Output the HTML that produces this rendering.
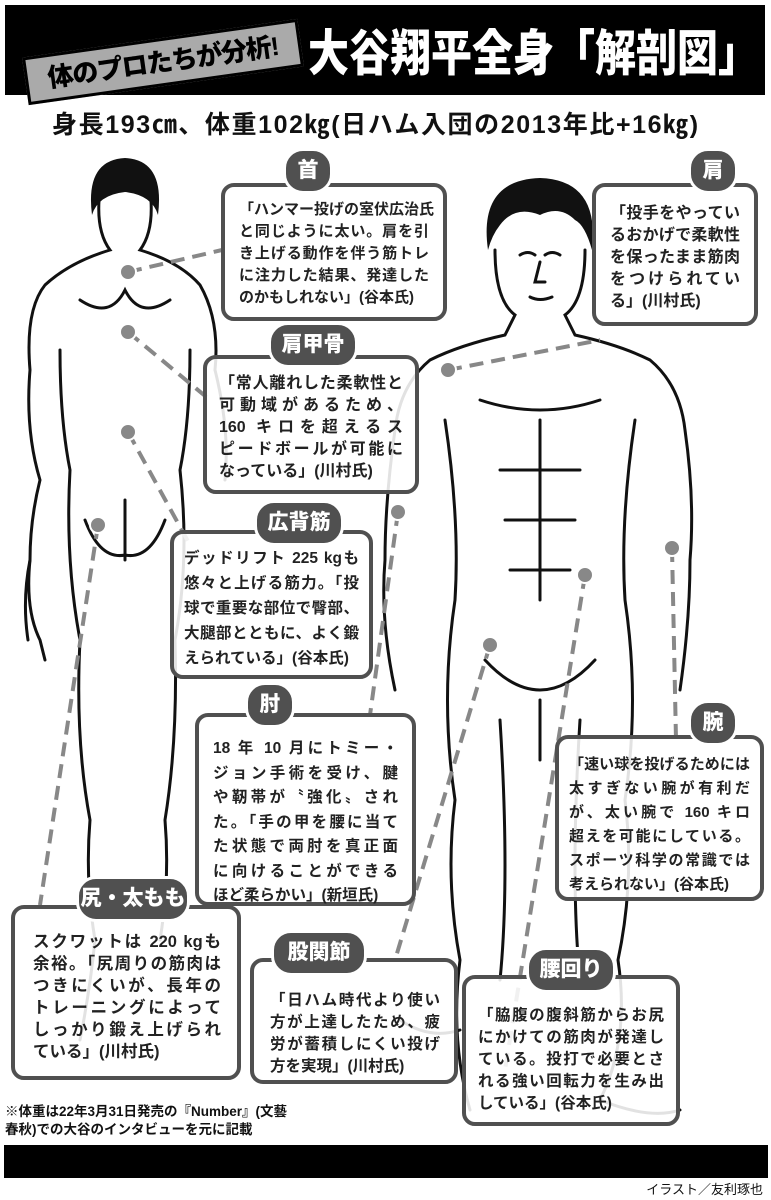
<!DOCTYPE html>
<html><head><meta charset="utf-8">
<style>
*{margin:0;padding:0;box-sizing:border-box}
body{width:771px;height:1200px;background:#fff;position:relative;overflow:hidden;font-family:"Liberation Sans","Noto Sans CJK JP",sans-serif;color:#111}
.bar{position:absolute;background:#000}
.box{position:absolute;background:rgba(255,255,255,0.88);border:4px solid #505050;border-radius:13px;font-weight:bold;color:#222;white-space:nowrap}
.box div{text-align:justify;text-align-last:justify}
.box div.l{text-align-last:left}
.lab{position:absolute;background:#505050;color:#fff;font-weight:900;font-size:21px;height:40px;line-height:40px;border-radius:20px;text-align:center;border:3px solid #fff;box-sizing:content-box}
svg{position:absolute;left:0;top:0}
</style></head><body>
<svg width="771" height="1200" viewBox="0 0 771 1200">
<g fill="none" stroke="#111" stroke-width="3" stroke-linecap="round">
<path d="M100 190 Q95 230 110 250 Q70 262 45 285 Q25 310 30 370 Q25 430 40 480 Q30 520 30 560 Q25 610 40 640 L45 660"/>
<path d="M150 190 Q155 230 140 250 Q180 262 200 285 Q220 320 215 370"/>
<path d="M60 350 Q60 420 70 470 Q65 560 80 640 Q75 740 90 820 Q85 880 95 940 Q90 990 80 1040"/>
<path d="M190 350 Q190 420 180 470 Q190 560 175 640 Q178 740 165 820 Q170 880 160 940"/>
<path d="M125 500 L125 560 M85 520 Q100 560 125 555 Q150 560 165 520"/>
<path d="M80 300 Q110 320 125 290 Q140 320 170 300"/>
<path d="M30 560 Q22 600 28 640 M215 370 Q230 430 225 480"/>
<path d="M495 250 Q495 300 515 315 L505 335 Q460 345 430 360 Q400 385 395 430 Q385 500 385 560 Q380 620 395 690"/>
<path d="M585 250 Q585 300 565 315 L575 335 Q620 345 650 360 Q680 385 685 430 Q695 500 690 560 Q690 620 680 690"/>
<path d="M520 255 Q528 250 535 255 M545 255 Q552 250 560 255 M540 262 L535 282 L545 282 M530 297 Q540 302 552 297"/>
<path d="M445 420 Q460 520 455 600 Q440 700 455 800 Q445 880 460 960 Q450 1040 470 1110 M635 420 Q620 520 625 600 Q640 700 625 800 Q635 880 618 960 Q630 1040 600 1100"/>
<path d="M480 400 Q540 420 600 400 M500 470 L580 470 M505 520 L575 520 M540 420 L540 600 M510 570 L570 570"/>
<path d="M485 660 Q540 720 595 660 M540 700 L540 760 M500 720 Q510 880 500 980 M580 720 Q570 880 580 980"/>
<path d="M400 1020 Q430 1040 460 1030 M600 1100 Q650 1120 680 1110"/>
</g>
<path d="M92 215 Q85 160 125 158 Q165 160 158 215 Q152 195 125 192 Q98 195 92 215Z" fill="#111"/>
<path d="M488 250 Q478 180 540 178 Q600 180 592 250 Q585 225 575 220 Q560 205 540 215 Q515 205 500 225 Q492 235 488 250Z" fill="#111"/>
<g fill="none" stroke="#888" stroke-width="4" stroke-dasharray="14 8">
<path d="M128 272 L222 250"/>
<path d="M128 332 L210 400"/>
<path d="M128 432 L190 545"/>
<path d="M98 525 L40 905"/>
<path d="M448 370 L600 340"/>
<path d="M398 512 L370 715"/>
<path d="M672 548 L676 740"/>
<path d="M490 645 L395 960"/>
<path d="M585 575 L505 1070"/>
</g>
<g fill="#888" stroke="#fff" stroke-width="2">
<circle cx="128" cy="272" r="8"/><circle cx="128" cy="332" r="8"/><circle cx="128" cy="432" r="8"/><circle cx="98" cy="525" r="8"/>
<circle cx="448" cy="370" r="8"/><circle cx="398" cy="512" r="8"/><circle cx="672" cy="548" r="8"/><circle cx="490" cy="645" r="8"/><circle cx="585" cy="575" r="8"/>
</g>
</svg>

<div class="bar" style="left:5px;top:5px;width:760px;height:90px"></div>
<div style="position:absolute;left:24px;top:38px;width:278px;height:48px;background:#aaa;border:3px solid #000;transform:rotate(-8deg);font-weight:900;font-size:26px;line-height:42px;text-align:center;color:#000;white-space:nowrap;letter-spacing:-1px">体のプロたちが分析!</div>
<div style="position:absolute;left:308px;top:20px;width:456px;font-weight:900;font-size:41px;color:#fff;line-height:56px;white-space:nowrap;letter-spacing:0px;transform:scaleY(1.2);transform-origin:top left">大谷翔平全身「解剖図」</div>
<div style="position:absolute;left:52px;top:108px;font-weight:bold;font-size:25px;line-height:34px;color:#111;white-space:nowrap;letter-spacing:1.6px">身長193㎝、体重102㎏(日ハム入団の2013年比+16㎏)</div>

<div class="box" style="left:221px;top:183px;width:226px;height:138px;padding:12px 14px 0 14px;font-size:15px;line-height:22px"><div>「ハンマー投げの室伏広治氏</div><div>と同じように太い。肩を引</div><div>き上げる動作を伴う筋トレ</div><div>に注力した結果、発達した</div><div class="l">のかもしれない」(谷本氏)</div></div>
<div class="lab" style="left:283px;top:148px;width:44px">首</div>

<div class="box" style="left:592px;top:183px;width:166px;height:143px;padding:16px 14px 0 14px;font-size:16px;line-height:22px"><div>「投手をやってい</div><div>るおかげで柔軟性</div><div>を保ったまま筋肉</div><div>をつけられてい</div><div class="l">る」(川村氏)</div></div>
<div class="lab" style="left:688px;top:148px;width:44px">肩</div>

<div class="box" style="left:203px;top:355px;width:216px;height:139px;padding:14px 12px 0 12px;font-size:16px;line-height:22px"><div>「常人離れした柔軟性と</div><div>可動域があるため、</div><div>160 キロを超えるス</div><div>ピードボールが可能に</div><div class="l">なっている」(川村氏)</div></div>
<div class="lab" style="left:268px;top:322px;width:84px">肩甲骨</div>

<div class="box" style="left:170px;top:530px;width:203px;height:149px;padding:12px 10px 0 10px;font-size:15.5px;line-height:25px"><div>デッドリフト 225 kgも</div><div>悠々と上げる筋力。「投</div><div>球で重要な部位で臀部、</div><div>大腿部とともに、よく鍛</div><div class="l">えられている」(谷本氏)</div></div>
<div class="lab" style="left:254px;top:500px;width:84px">広背筋</div>

<div class="box" style="left:195px;top:713px;width:221px;height:193px;padding:20px 14px 0 14px;font-size:15.5px;line-height:24.5px"><div>18 年 10 月にトミー・</div><div>ジョン手術を受け、腱</div><div>や靭帯が〝強化〟され</div><div>た。「手の甲を腰に当て</div><div>た状態で両肘を真正面</div><div>に向けることができる</div><div class="l">ほど柔らかい」(新垣氏)</div></div>
<div class="lab" style="left:245px;top:682px;width:44px">肘</div>

<div class="box" style="left:555px;top:735px;width:209px;height:166px;padding:14px 10px 0 10px;font-size:15px;line-height:24px"><div>「速い球を投げるためには</div><div>太すぎない腕が有利だ</div><div>が、太い腕で 160 キロ</div><div>超えを可能にしている。</div><div>スポーツ科学の常識では</div><div class="l">考えられない」(谷本氏)</div></div>
<div class="lab" style="left:688px;top:700px;width:44px">腕</div>

<div class="box" style="left:11px;top:905px;width:230px;height:175px;padding:22px 16px 0 18px;font-size:16.5px;line-height:22px"><div>スクワットは 220 kgも</div><div>余裕。「尻周りの筋肉は</div><div>つきにくいが、長年の</div><div>トレーニングによって</div><div>しっかり鍛え上げられ</div><div class="l">ている」(川村氏)</div></div>
<div class="lab" style="left:76px;top:876px;width:108px">尻・太もも</div>

<div class="box" style="left:250px;top:958px;width:208px;height:126px;padding:28px 14px 0 16px;font-size:15.5px;line-height:22px"><div>「日ハム時代より使い</div><div>方が上達したため、疲</div><div>労が蓄積しにくい投げ</div><div class="l">方を実現」(川村氏)</div></div>
<div class="lab" style="left:271px;top:930px;width:90px">股関節</div>

<div class="box" style="left:462px;top:975px;width:218px;height:151px;padding:26px 12px 0 12px;font-size:15.5px;line-height:22px"><div>「脇腹の腹斜筋からお尻</div><div>にかけての筋肉が発達し</div><div>ている。投打で必要とさ</div><div>れる強い回転力を生み出</div><div class="l">している」(谷本氏)</div></div>
<div class="lab" style="left:526px;top:947px;width:84px">腰回り</div>

<div style="position:absolute;left:5px;top:1103px;font-weight:bold;font-size:13.5px;line-height:18px;white-space:nowrap">※体重は22年3月31日発売の『Number』(文藝<br>春秋)での大谷のインタビューを元に記載</div>
<div class="bar" style="left:4px;top:1145px;width:764px;height:33px"></div>
<div style="position:absolute;right:8px;top:1182px;font-size:13px;line-height:16px">イラスト／友利琢也</div>
</body></html>
